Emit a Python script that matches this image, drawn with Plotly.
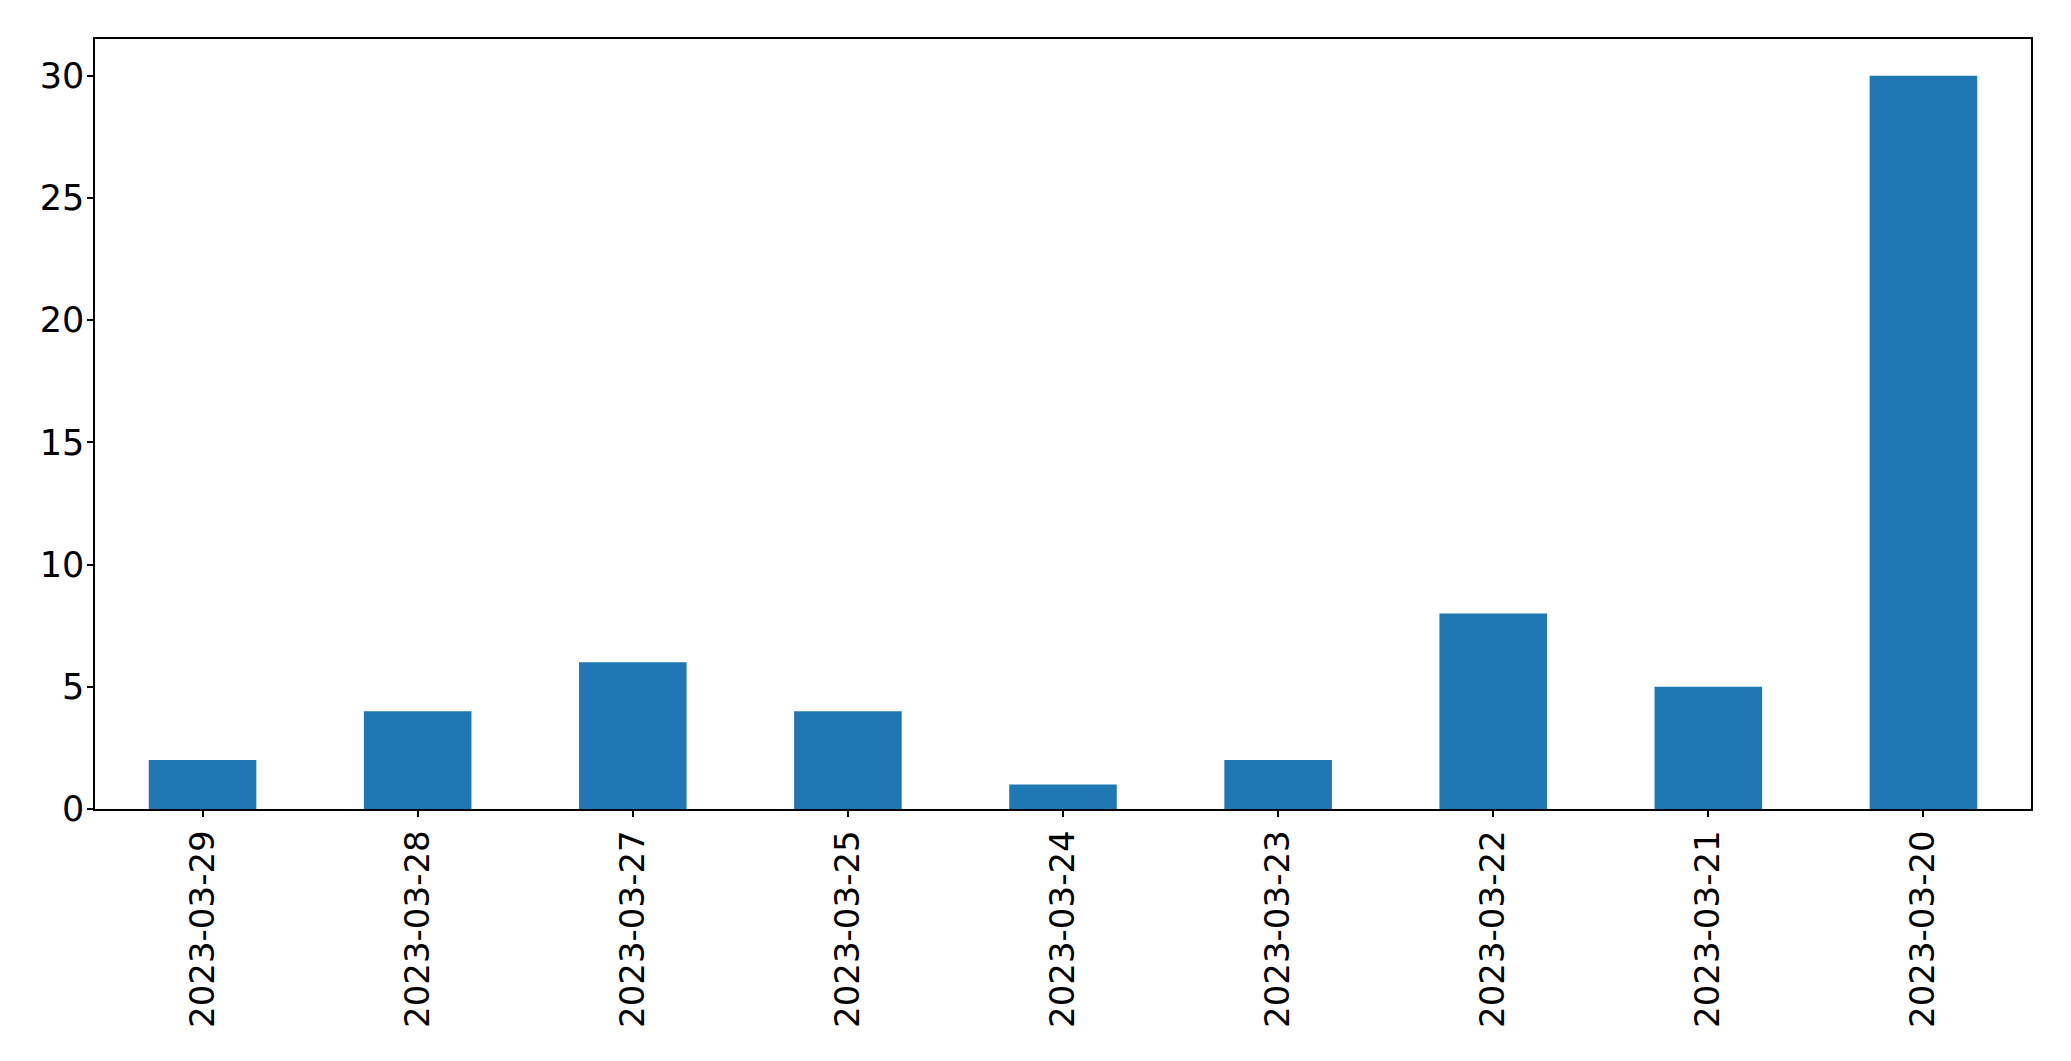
import plotly.graph_objects as go

dates = ["2023-03-29", "2023-03-28", "2023-03-27", "2023-03-25", "2023-03-24",
         "2023-03-23", "2023-03-22", "2023-03-21", "2023-03-20"]
counts = [2, 4, 6, 4, 1, 2, 8, 5, 30]
y_ticks = [0, 5, 10, 15, 20, 25, 30]

fig = go.Figure(go.Bar(x=dates, y=counts, marker_color="#1f77b4",
                       marker_line_width=0, width=0.5))

font = dict(family="DejaVu Sans", size=35, color="black")
xfont = dict(family="DejaVu Sans", size=34, color="black")
fig.update_layout(
    width=2071, height=1061,
    margin=dict(l=87, r=48, t=31, b=260, pad=0),
    plot_bgcolor="white", paper_bgcolor="white",
    showlegend=False, bargap=0.5,
    font=font,
)
fig.update_xaxes(type="category", range=[-0.5, 8.5], tickangle=-90, automargin=False,
                 showline=True, linecolor="black", linewidth=1.5, mirror=True,
                 ticks="outside", ticklen=6, tickcolor="black", tickwidth=1.5,
                 showgrid=False, tickfont=xfont, ticklabelstandoff=0)
fig.update_yaxes(range=[0, 31.5], tickvals=y_ticks, ticktext=[str(v) for v in y_ticks],
                 automargin=False,
                 showline=True, linecolor="black", linewidth=1.5, mirror=True,
                 ticks="outside", ticklen=6, tickcolor="black", tickwidth=1.5,
                 showgrid=False, zeroline=False, tickfont=font, ticklabelstandoff=-4)

fig.write_html("out.html")
